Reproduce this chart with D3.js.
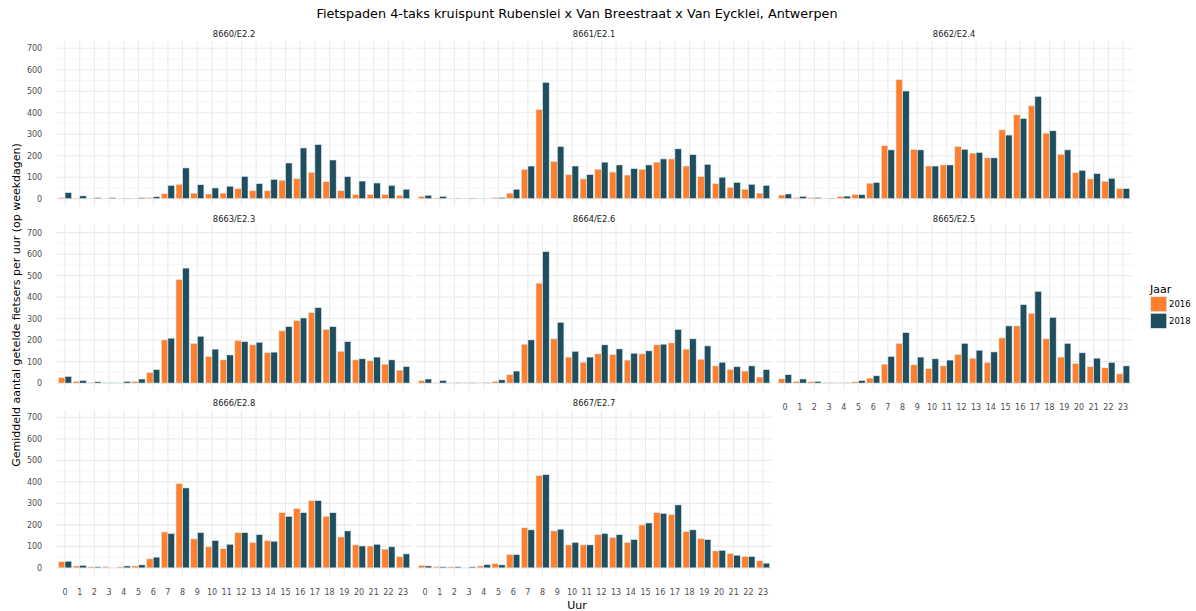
<!DOCTYPE html>
<html><head><meta charset="utf-8">
<script src="https://cdn.jsdelivr.net/npm/d3@7"></script>
<style>body{margin:0;background:#fff;} text{font-family:"DejaVu Sans",sans-serif;}</style>
</head><body>
<svg id="chart" width="1196" height="611"></svg>
<script>
const hours = ["0","1","2","3","4","5","6","7","8","9","10","11","12","13","14","15","16","17","18","19","20","21","22","23"];
const years = ["2016","2018"];
const stations = ["8660/E2.2","8661/E2.1","8662/E2.4","8663/E2.3","8664/E2.6","8665/E2.5","8666/E2.8","8667/E2.7"];
const yTicks = [0,100,200,300,400,500,600,700];
const yMinor = [50,150,250,350,450,550,650];

const s8660_2016 = [5,2,1,1,1,2,5,23,67,26,22,26,47,37,37,86,93,123,79,37,20,20,20,16];
const s8660_2018 = [28,13,5,5,2,5,9,62,143,65,50,58,104,70,90,166,236,252,180,103,82,73,62,44];
const s8661_2016 = [11,3,1,1,1,6,26,137,415,174,112,92,137,124,110,137,170,185,152,104,70,53,44,26];
const s8661_2018 = [16,11,2,2,1,6,44,152,541,243,152,112,170,157,140,157,185,232,205,160,100,76,67,62];
const s8662_2016 = [17,6,5,1,11,19,72,247,554,230,152,157,243,212,190,320,390,432,305,207,121,92,81,47];
const s8662_2018 = [22,11,6,2,12,19,76,227,501,227,152,157,230,215,190,296,373,476,316,227,132,117,95,47];
const s8663_2016 = [26,8,3,2,2,8,49,201,482,185,124,108,198,178,141,243,291,328,250,148,108,104,88,60];
const s8663_2018 = [31,12,6,2,8,19,63,209,535,218,158,131,193,190,144,263,303,351,263,193,113,121,108,77];
const s8664_2016 = [11,2,1,1,1,8,39,181,465,206,121,97,136,133,107,136,178,187,158,111,80,63,56,28];
const s8664_2018 = [19,12,3,3,3,15,56,201,612,283,148,121,178,159,139,150,181,250,206,173,97,76,80,63];
const s8665_2016 = [20,8,6,2,2,6,23,88,185,85,68,80,133,116,96,210,266,325,206,121,91,76,71,43];
const s8665_2018 = [39,19,8,2,2,12,34,124,235,121,113,107,185,153,145,266,365,427,306,185,141,116,96,80];
const s8666_2016 = [29,9,5,5,5,9,42,167,392,135,98,90,164,119,127,257,276,313,240,144,107,102,87,53];
const s8666_2018 = [31,12,5,1,9,14,50,160,372,164,127,110,164,155,124,240,257,313,257,172,102,110,98,65];
const s8667_2016 = [12,5,5,1,9,20,62,187,429,172,107,107,155,142,119,200,257,248,169,136,79,67,54,33];
const s8667_2018 = [9,5,5,5,15,14,62,177,434,180,119,107,160,155,132,209,254,293,177,132,82,59,53,22];

const series2016 = [s8660_2016,s8661_2016,s8662_2016,s8663_2016,s8664_2016,s8665_2016,s8666_2016,s8667_2016];
const series2018 = [s8660_2018,s8661_2018,s8662_2018,s8663_2018,s8664_2018,s8665_2018,s8666_2018,s8667_2018];
const colors = ["#fe7f2d","#1f4e5f"];

const svg = d3.select("#chart");
const panelW = 355.7, panelH = 165.5;
const colLeft = [56.2, 416.2, 776.2];
const rowTop = [40.7, 225.1, 409.9];

const x = d3.scaleBand().domain(hours).range([0, panelW]).paddingInner(0.1).paddingOuter(0.15);
const xg = d3.scaleBand().domain(years).range([0, x.bandwidth()]).padding(0);
const y = d3.scaleLinear().domain([-35, 735]).range([panelH, 0]);
const color = d3.scaleOrdinal().domain(years).range(colors);

// title
svg.append("text").attr("x", 577).attr("y", 18).attr("text-anchor","middle")
  .attr("font-size", 12.8).attr("fill","#000").text("Fietspaden 4-taks kruispunt Rubenslei x Van Breestraat x Van Eycklei, Antwerpen");

stations.forEach((st, i) => {
  const col = i % 3, row = Math.floor(i / 3);
  const g = svg.append("g").attr("transform", `translate(${colLeft[col]},${rowTop[row]})`);
  g.selectAll(".ymin").data(yMinor).join("line")
    .attr("x1",0).attr("x2",panelW).attr("y1",d=>y(d)).attr("y2",d=>y(d))
    .attr("stroke","#f0f0f0").attr("stroke-width",0.6);
  g.selectAll(".ymaj").data(yTicks).join("line")
    .attr("x1",0).attr("x2",panelW).attr("y1",d=>y(d)).attr("y2",d=>y(d))
    .attr("stroke","#ebebeb").attr("stroke-width",1.1);
  g.selectAll(".xmaj").data(hours).join("line")
    .attr("x1",d=>x(d)+x.bandwidth()/2).attr("x2",d=>x(d)+x.bandwidth()/2)
    .attr("y1",0).attr("y2",panelH)
    .attr("stroke","#ebebeb").attr("stroke-width",1.1);
  g.append("text").attr("x", panelW/2).attr("y", -3.5).attr("text-anchor","middle")
    .attr("font-size", 8.3).attr("fill","#1a1a1a").text(st);
  const rows = hours.map((h, k) => ({h, vals: [series2016[i][k], series2018[i][k]]}));
  const hg = g.selectAll(".hg").data(rows).join("g").attr("transform", d => `translate(${x(d.h)},0)`);
  hg.selectAll("rect").data(d => years.map((yr, j) => ({yr, v: d.vals[j]}))).join("rect")
    .attr("x", d => xg(d.yr)).attr("width", xg.bandwidth())
    .attr("y", d => y(d.v)).attr("height", d => y(0) - y(d.v))
    .attr("fill", d => color(d.yr)).attr("stroke","#e4ecee").attr("stroke-width",0.6);
  if (col === 0) {
    const ya = g.append("g").call(d3.axisLeft(y).tickValues(yTicks).tickSize(0).tickPadding(14));
    ya.select(".domain").remove();
    ya.selectAll("text").attr("font-size", 8).attr("fill","#4d4d4d").attr("font-family","DejaVu Sans, sans-serif");
  }
  if (row === 2 || (row === 1 && col === 2)) {
    const xa = g.append("g").attr("transform", `translate(0,${panelH})`)
      .call(d3.axisBottom(x).tickSize(0).tickPadding(14));
    xa.select(".domain").remove();
    xa.selectAll("text").attr("font-size", 8).attr("fill","#4d4d4d").attr("font-family","DejaVu Sans, sans-serif");
  }
});

svg.append("text").attr("x", 577).attr("y", 609).attr("text-anchor","middle")
  .attr("font-size", 11).attr("fill","#000").text("Uur");
svg.append("text").attr("transform","translate(20,305) rotate(-90)").attr("text-anchor","middle")
  .attr("font-size", 11).attr("fill","#000").text("Gemiddeld aantal getelde fietsers per uur (op weekdagen)");

const lg = svg.append("g").attr("transform","translate(1150,282)");
lg.append("text").attr("x",0).attr("y",11).attr("font-size",11).attr("fill","#000").text("Jaar");
years.forEach((yr, j) => {
  lg.append("rect").attr("x",0.7).attr("y",14.7 + j*16.6).attr("width",16).attr("height",15)
    .attr("fill", color(yr)).attr("stroke","#e4ecee").attr("stroke-width",0.6);
  lg.append("text").attr("x",19).attr("y",22.2 + j*16.6 + 3).attr("font-size",8.5).attr("fill","#000").text(yr);
});
</script>
</body></html>
